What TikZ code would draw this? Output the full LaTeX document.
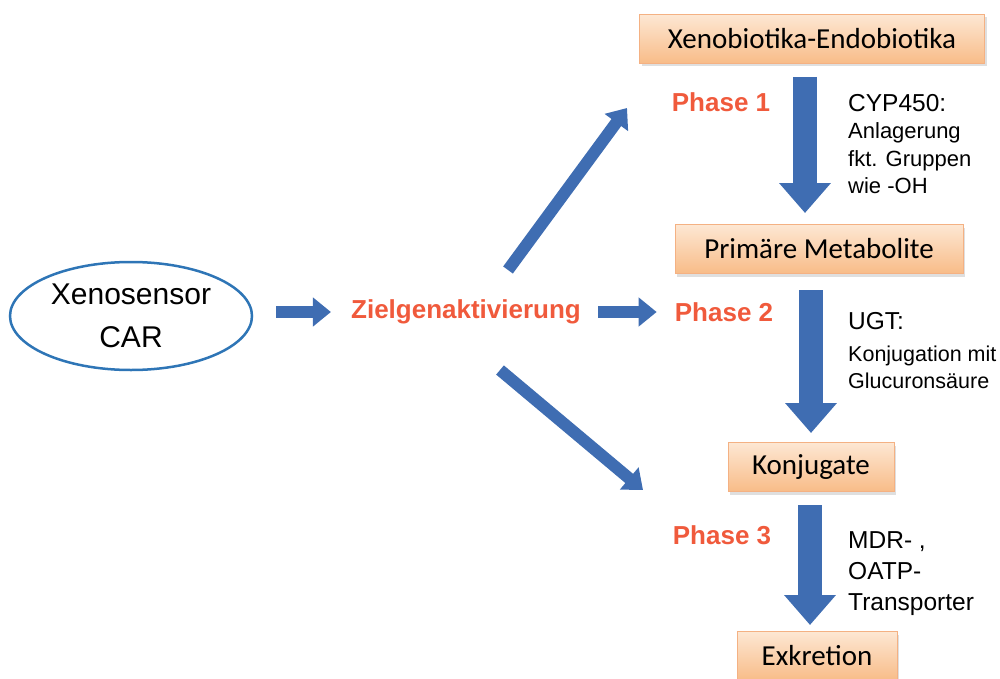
\documentclass[tikz,border=0pt]{standalone}
\usepackage{fontspec}
\setmainfont{Liberation Sans}
\newfontfamily\boxfont{Carlito}
\usetikzlibrary{shapes.geometric,arrows.meta,shadows}

\definecolor{arrowblue}{HTML}{3F6DB2}
\definecolor{ellblue}{HTML}{2E75B6}
\definecolor{phasered}{HTML}{F05A3C}
\definecolor{boxtop}{HTML}{FDE7D3}
\definecolor{boxbot}{HTML}{F8BC88}
\definecolor{boxline}{HTML}{F4B183}

\begin{document}
\begin{tikzpicture}
[x=1pt,y=-1pt,%%%%%%%%%%%%%%%%%%%%%%%%%%%%%%
stepbox/.style={rectangle,draw=boxline,thin,top color=boxtop,bottom color=boxbot,
  minimum height=49pt,inner sep=0pt,font=\boxfont\fontsize{29}{32}\selectfont,
  drop shadow={opacity=0.25,shadow xshift=2pt,shadow yshift=-3pt}},
phaselabel/.style={text=phasered,font=\bfseries\fontsize{26}{30}\selectfont,inner sep=0pt},
enzyme/.style={align=left,anchor=north west,inner sep=0pt},
bigarrow/.style={draw=arrowblue,line width=24pt,-{Triangle[width=50pt,length=30pt]}},
smallarrow/.style={draw=arrowblue,line width=12pt,-{Triangle[width=28pt,length=18pt]}},
]%%%%%%%%%%%%%%%%%%%%%%%%%%%%%%
\useasboundingbox (0,0) rectangle (1000,679);

% sensor and activation
\node[ellipse,draw=ellblue,line width=2.5pt,minimum width=242pt,minimum height=108pt,
  align=center,font=\fontsize{30}{43}\selectfont] (car) at (131,316) {Xenosensor\\CAR};
\node[phaselabel] (ziel) at (466,312) {Zielgenaktivierung};

% metabolic steps
\node[stepbox,minimum width=345pt] (xeno) at (812,39) {Xenobiotika-Endobiotika};
\node[stepbox,minimum width=288pt] (prim) at (819,249) {Primäre Metabolite};
\node[stepbox,minimum width=166pt] (konj) at (811,467) {Konjugate};
\node[stepbox,minimum width=160pt] (exkr) at (817,656) {Exkretion};

\node[phaselabel] (ph1) at (721,102) {Phase 1};
\node[phaselabel] (ph2) at (724,312) {Phase 2};
\node[phaselabel] (ph3) at (722,535) {Phase 3};

\node[enzyme,font=\fontsize{22}{27.5}\selectfont] (cyp) at (848,94)
  {{\fontsize{24.5}{28}\selectfont CYP450:}\\Anlagerung\\fkt. Gruppen\\wie -OH};
\node[enzyme,font=\fontsize{21.5}{27}\selectfont] (ugt) at (848,312)
  {{\fontsize{24.5}{30}\selectfont UGT:}\\[5pt]Konjugation mit\\Glucuronsäure};
\node[enzyme,font=\fontsize{24.5}{31}\selectfont] (mdr) at (848,531) {MDR- ,\\OATP-\\Transporter};

% arrow ends
\coordinate (a1s) at (805,77);  \coordinate (a1e) at (805,213);
\coordinate (a2s) at (811,290); \coordinate (a2e) at (811,433);
\coordinate (a3s) at (810,505); \coordinate (a3e) at (810,625);
\coordinate (up)  at (627,108); \coordinate (upS) at (508,270);
\coordinate (dn)  at (643,490); \coordinate (dnS) at (500,370);

\draw[bigarrow] (a1s) -- (a1e);
\draw[bigarrow] (a2s) -- (a2e);
\draw[bigarrow] (a3s) -- (a3e);

\draw[smallarrow,shorten <=23pt,shorten >=20pt] (car.east |- ziel.west) -- (ziel.west);
\draw[smallarrow,shorten <=17pt,shorten >=18pt] (ziel.east) -- (ph2.west);
\draw[smallarrow] (upS) -- (up);
\draw[smallarrow] (dnS) -- (dn);
\end{tikzpicture}
\end{document}
